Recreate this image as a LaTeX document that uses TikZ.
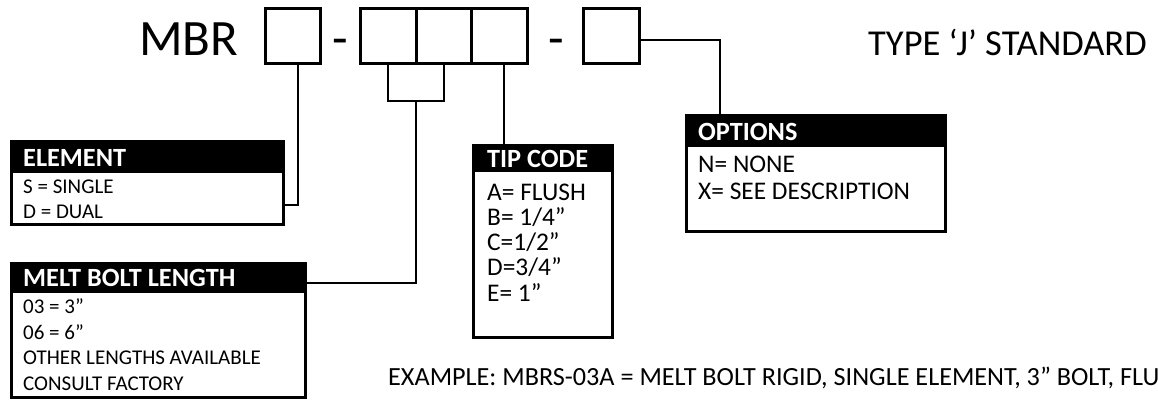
\documentclass[tikz,border=0pt]{standalone}
\usepackage{fontspec}
\setmainfont{Carlito}
\usetikzlibrary{calc}
\tikzset{
  codebox/.style={draw, line width=3pt, minimum width=55.5pt, minimum height=55pt, inner sep=0pt},
  frame/.style={draw, line width=3pt, inner sep=0pt, anchor=north west},
  hdr/.style={fill=black, inner sep=0pt, anchor=north west},
  hdrtext/.style={text=white, font=\bfseries\fontsize{26.3}{30}\selectfont, anchor=base west, inner sep=0pt},
  smalltext/.style={font=\fontsize{21}{25}\selectfont, anchor=base west, inner sep=0pt},
  bodytext/.style={font=\fontsize{25.4}{26}\selectfont, anchor=base west, inner sep=0pt},
  bigtext/.style={font=\fontsize{51}{60}\selectfont, inner sep=0pt},
  link/.style={line width=2pt},
}
\begin{document}
\begin{tikzpicture}[x=1pt,y=-1pt]
\useasboundingbox (0,0) rectangle (1158,399);
\clip (0,0) rectangle (1158,399);

% title row
\node[bigtext, anchor=base west] (mbr) at (139,55) {MBR};
\node[codebox] (b1) at (293,35.5) {};
\node[bigtext, anchor=base] (d1) at (340,55) {-};
\node[codebox] (b2) at (388.25,35.5) {};
\node[codebox] (b3) at (443.75,35.5) {};
\node[codebox] (b4) at (499.25,35.5) {};
\node[bigtext, anchor=base] (d2) at (556,55) {-};
\node[codebox] (b5) at (611.5,35.5) {};
\node[anchor=base west, inner sep=0pt, font=\fontsize{36.5}{40}\selectfont] (type) at (868,55) {TYPE ‘J’ STANDARD};

% ELEMENT box
\node[hdr, minimum width=272pt, minimum height=33.5pt] (elemH) at (9.5,139.5) {};
\node[frame, minimum width=272pt, minimum height=83pt] (elem) at (9.5,139.5) {};
\node[hdrtext] (elemT) at (23,166) {ELEMENT};
\node[smalltext] (elem1) at (23,193) {S = SINGLE};
\node[smalltext] (elem2) at (23,218) {D = DUAL};

% MELT BOLT LENGTH box
\node[hdr, minimum width=294pt, minimum height=31.5pt] (meltH) at (9.5,261.5) {};
\node[frame, minimum width=294pt, minimum height=134pt] (melt) at (9.5,261.5) {};
\node[hdrtext] (meltT) at (23,286) {MELT BOLT LENGTH};
\node[smalltext] (melt1) at (23,313) {03 = 3”};
\node[smalltext] (melt2) at (23,339) {06 = 6”};
\node[smalltext] (melt3) at (23,364) {OTHER LENGTHS AVAILABLE};
\node[smalltext] (melt4) at (23,390) {CONSULT FACTORY};

% TIP CODE box
\node[hdr, minimum width=139pt, minimum height=28.5pt] (tipH) at (471.5,143.5) {};
\node[frame, minimum width=139pt, minimum height=192pt] (tip) at (471.5,143.5) {};
\node[hdrtext] (tipT) at (487,167) {TIP CODE};
\node[bodytext] (tip1) at (487,200) {A= FLUSH};
\node[bodytext] (tip2) at (487,225) {B= 1/4”};
\node[bodytext] (tip3) at (487,250) {C=1/2”};
\node[bodytext] (tip4) at (487,275) {D=3/4”};
\node[bodytext] (tip5) at (487,301) {E= 1”};

% OPTIONS box
\node[hdr, minimum width=259pt, minimum height=33.5pt] (optH) at (684.5,113.5) {};
\node[frame, minimum width=259pt, minimum height=116pt] (opt) at (684.5,113.5) {};
\node[hdrtext] (optT) at (698,140) {OPTIONS};
\node[bodytext] (opt1) at (698,172) {N= NONE};
\node[bodytext] (opt2) at (698,199) {X= SEE DESCRIPTION};

% example
\node[bodytext, font=\fontsize{26.2}{30}\selectfont] (ex) at (388,385) {EXAMPLE: MBRS-03A = MELT BOLT RIGID, SINGLE ELEMENT, 3” BOLT, FLUSH};

% connectors
\draw[link] ([xshift=5pt]b1.south) |- (elem.east |- 0,205);
\draw[link] (b2.south) -- ++(0,36) coordinate (bl) -| (b3.south);
\coordinate (bm) at ($(bl)!0.5!(b3.south |- bl)$);
\draw[link] (bm) |- (melt.east |- 0,283);
\draw[link] ([xshift=5pt]b4.south) -- ([xshift=5pt]b4.south |- tip.north);
\draw[link] ([yshift=-4.5pt]b5.east) -| (opt.north -| 720,0);
\end{tikzpicture}
\end{document}
